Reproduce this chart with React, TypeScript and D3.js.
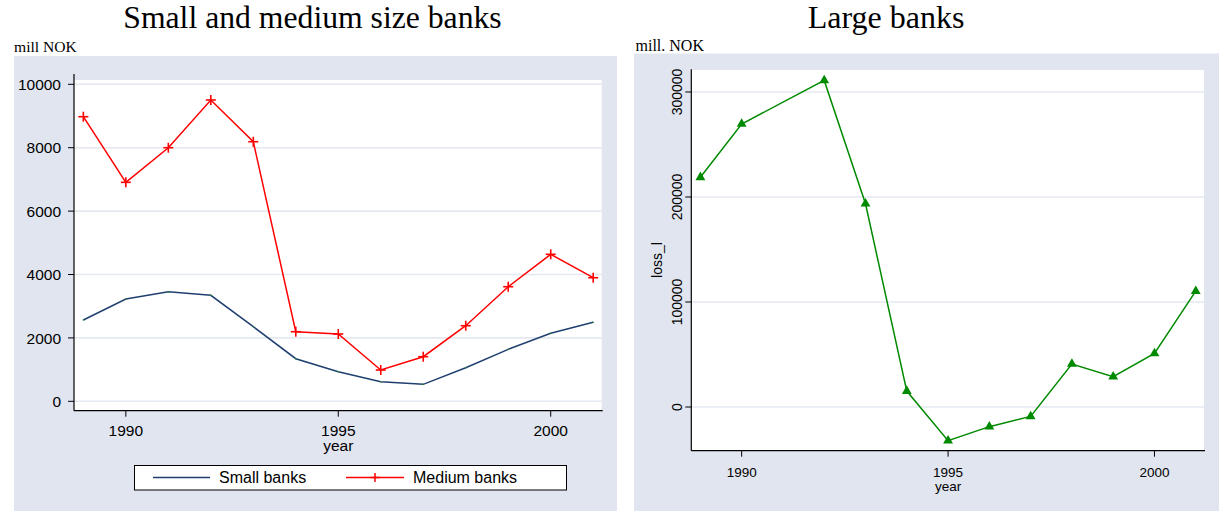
import React from "react";
import * as d3 from "d3";

const years = [1989, 1990, 1991, 1992, 1993, 1994, 1995, 1996, 1997, 1998, 1999, 2000, 2001];
const smallBanks = [2565, 3227, 3457, 3343, 2353, 1344, 934, 618, 536, 1060, 1640, 2145, 2492];
const mediumBanks = [8978, 6908, 8000, 9505, 8189, 2196, 2123, 987, 1407, 2385, 3615, 4637, 3899];
const largeYears = [1989, 1990, 1992, 1993, 1994, 1995, 1996, 1997, 1998, 1999, 2000, 2001];
const largeBanks = [218760, 269500, 311000, 193600, 15200, -32100, -18700, -8900, 40950, 28900, 51100, 110300];
const xTicks = [1990, 1995, 2000];
const leftYTicks = [0, 2000, 4000, 6000, 8000, 10000];
const rightYTicks = [0, 100000, 200000, 300000];

const BG = "#e0e5ef";
const GRID = "#e4e8f1";
const NAVY = "#1f3f70";
const RED = "#ff0000";
const GREEN = "#008a00";
const SANS = "'Liberation Sans', Arial, Helvetica, sans-serif";
const SERIF = "'Liberation Serif', 'Times New Roman', serif";

export default function App() {
  // left panel scales
  const xL = d3.scaleLinear().domain([1988.78, 2001.2]).range([74, 601.7]);
  const yL = d3.scaleLinear().domain([-296, 10136]).range([410.7, 80]);
  // right panel scales
  const xR = d3.scaleLinear().domain([1988.78, 2001.2]).range([691.3, 1204]);
  const yR = d3.scaleLinear().domain([-41600, 321600]).range([450.7, 69.3]);

  const lineSmall = d3.line<number>().x((_, i) => xL(years[i])).y((d) => yL(d));
  const lineLarge = d3.line<number>().x((_, i) => xR(largeYears[i])).y((d) => yR(d));
  const tri = d3.symbol().type(d3.symbolTriangle).size(42)();

  const [lx0, lx1] = xL.range();
  const [ly0, ly1] = yL.range();
  const [rx0, rx1] = xR.range();
  const [ry0, ry1] = yR.range();

  return (
    <svg
      width={1219}
      height={511}
      style={{ position: "absolute", left: 0, top: 0, display: "block", background: "#fff" }}
    >
      {/* ---------- LEFT PANEL ---------- */}
      <text x={312.5} y={28} textAnchor="middle" fontFamily={SERIF} fontSize={31.7} fill="#000">
        Small and medium size banks
      </text>
      <text x={14} y={52} fontFamily={SERIF} fontSize={15.6} fill="#000">
        mill NOK
      </text>
      <rect x={14} y={56} width={603} height={455} fill={BG} />
      <rect x={lx0} y={ly1} width={lx1 - lx0} height={ly0 - ly1} fill="#fff" />
      {leftYTicks.map((t) => (
        <line key={"lg" + t} x1={lx0} x2={lx1} y1={yL(t)} y2={yL(t)} stroke={GRID} strokeWidth={1.6} />
      ))}
      {/* axes */}
      <line x1={lx0} x2={lx0} y1={74} y2={ly0} stroke="#000" strokeWidth={1.2} />
      <line x1={lx0} x2={lx1 + 1} y1={ly0} y2={ly0} stroke="#000" strokeWidth={1.2} />
      {leftYTicks.map((t) => (
        <g key={"ly" + t}>
          <line x1={lx0 - 6} x2={lx0} y1={yL(t)} y2={yL(t)} stroke="#000" strokeWidth={1} />
          <text x={61} y={yL(t) + 5.6} textAnchor="end" fontFamily={SANS} fontSize={15.5} fill="#000">
            {t}
          </text>
        </g>
      ))}
      {xTicks.map((t) => (
        <g key={"lx" + t}>
          <line x1={xL(t)} x2={xL(t)} y1={ly0} y2={ly0 + 6} stroke="#000" strokeWidth={1} />
          <text x={xL(t)} y={435.5} textAnchor="middle" fontFamily={SANS} fontSize={15.5} fill="#000">
            {t}
          </text>
        </g>
      ))}
      <text x={xL(1995)} y={450.5} textAnchor="middle" fontFamily={SANS} fontSize={15.5} fill="#000">
        year
      </text>
      {/* series */}
      <path d={lineSmall(smallBanks) || ""} fill="none" stroke={NAVY} strokeWidth={1.5} />
      {smallBanks.map((v, i) => (
        <circle key={"sd" + i} cx={xL(years[i])} cy={yL(v)} r={0.8} fill="#2a8a2a" />
      ))}
      <path d={lineSmall(mediumBanks) || ""} fill="none" stroke={RED} strokeWidth={1.5} />
      {mediumBanks.map((v, i) => (
        <g key={"md" + i} stroke={RED} strokeWidth={1.6}>
          <line x1={xL(years[i]) - 5} x2={xL(years[i]) + 5} y1={yL(v)} y2={yL(v)} />
          <line x1={xL(years[i])} x2={xL(years[i])} y1={yL(v) - 5} y2={yL(v) + 5} />
        </g>
      ))}
      {/* legend */}
      <rect x={134.5} y={465.5} width={432} height={24.5} fill="#fff" stroke="#000" strokeWidth={1} />
      <line x1={153} x2={210} y1={477.5} y2={477.5} stroke={NAVY} strokeWidth={1.5} />
      <text x={219} y={483} fontFamily={SANS} fontSize={16} fill="#000">
        Small banks
      </text>
      <line x1={346} x2={404} y1={477.5} y2={477.5} stroke={RED} strokeWidth={1.5} />
      <line x1={375} x2={375} y1={473} y2={482} stroke={RED} strokeWidth={1.5} />
      <line x1={370.5} x2={379.5} y1={477.5} y2={477.5} stroke={RED} strokeWidth={1.5} />
      <text x={413} y={483} fontFamily={SANS} fontSize={16} fill="#000">
        Medium banks
      </text>

      {/* ---------- RIGHT PANEL ---------- */}
      <text x={886} y={28} textAnchor="middle" fontFamily={SERIF} fontSize={32} fill="#000">
        Large banks
      </text>
      <text x={635.5} y={50.5} fontFamily={SERIF} fontSize={16} fill="#000">
        mill. NOK
      </text>
      <rect x={634} y={53.5} width={585} height={458} fill={BG} />
      <rect x={rx0} y={ry1 + 0.7} width={rx1 - rx0} height={ry0 - ry1 - 0.7} fill="#fff" />
      {rightYTicks.map((t) => (
        <line key={"rg" + t} x1={rx0} x2={rx1} y1={yR(t)} y2={yR(t)} stroke={GRID} strokeWidth={1.6} />
      ))}
      <line x1={rx0} x2={rx0} y1={ry1} y2={ry0} stroke="#000" strokeWidth={1.2} />
      <line x1={rx0} x2={rx1 + 1} y1={ry0} y2={ry0} stroke="#000" strokeWidth={1.2} />
      {rightYTicks.map((t) => (
        <g key={"ry" + t}>
          <line x1={rx0 - 6} x2={rx0} y1={yR(t)} y2={yR(t)} stroke="#000" strokeWidth={1} />
          <text
            transform={`translate(681.5,${yR(t)}) rotate(-90)`}
            textAnchor="middle"
            fontFamily={SANS}
            fontSize={14}
            fill="#000"
          >
            {t}
          </text>
        </g>
      ))}
      <text
        transform={`translate(661.5,${(ry0 + ry1) / 2}) rotate(-90)`}
        textAnchor="middle"
        fontFamily={SANS}
        fontSize={14}
        fill="#000"
      >
        loss_l
      </text>
      {xTicks.map((t) => (
        <g key={"rx" + t}>
          <line x1={xR(t)} x2={xR(t)} y1={ry0} y2={ry0 + 6} stroke="#000" strokeWidth={1} />
          <text x={xR(t)} y={476.5} textAnchor="middle" fontFamily={SANS} fontSize={13.5} fill="#000">
            {t}
          </text>
        </g>
      ))}
      <text x={xR(1995)} y={490.5} textAnchor="middle" fontFamily={SANS} fontSize={13.5} fill="#000">
        year
      </text>
      <path d={lineLarge(largeBanks) || ""} fill="none" stroke={GREEN} strokeWidth={1.5} />
      {largeBanks.map((v, i) => (
        <path key={"lt" + i} d={tri || ""} transform={`translate(${xR(largeYears[i])},${yR(v)})`} fill={GREEN} />
      ))}
    </svg>
  );
}
